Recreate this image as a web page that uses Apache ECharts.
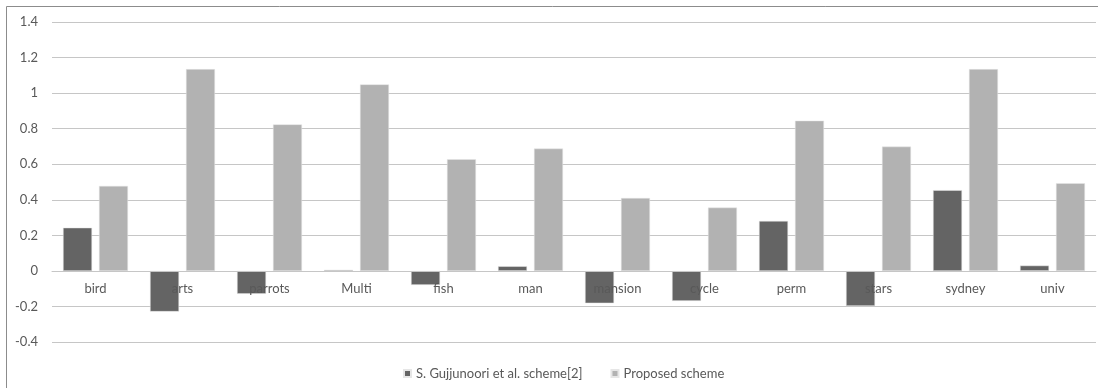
<!DOCTYPE html>
<html>
    <head>
        <meta charset="UTF-8">
        <style>
            body { margin: 0; background: #fff; }
        </style>
    </head>
    <body>
        <div id="main" style="width: 1098px;height:388px;"></div>
        <script src="https://cdn.jsdelivr.net/npm/echarts@6/dist/echarts.min.js"></script>
        <script type="text/javascript">
            // 类别
            let categories = ['bird', 'arts', 'parrots', 'Multi', 'fish', 'man', 'mansion', 'cycle', 'perm', 'stars', 'sydney', 'univ'];
            // 两组数据
            let gujjunoori = [0.243, -0.229, -0.129, 0.006, -0.079, 0.026, -0.182, -0.169, 0.281, -0.197, 0.454, 0.03];
            let proposed = [0.478, 1.135, 0.824, 1.049, 0.628, 0.688, 0.41, 0.356, 0.845, 0.699, 1.135, 0.493];
            let seriesNames = ['S. Gujjunoori et al. scheme[2]', 'Proposed scheme'];

            let chart = echarts.init(document.getElementById('main'));
            let textColor = '#595959';
            let option = {
                animation: false,
                textStyle: {fontFamily: 'Lato'},
                graphic: [{
                    type: 'rect',
                    shape: {x: 6.5, y: 6.5, width: 1200, height: 500},
                    style: {fill: 'none', stroke: '#8c8c8c', lineWidth: 1},
                    silent: true
                }],
                grid: {
                    left: 52,
                    right: 2,
                    top: 22,
                    bottom: 46
                },
                legend: {
                    left: 398,
                    top: 362,
                    icon: 'rect',
                    itemWidth: 7,
                    itemHeight: 7,
                    itemGap: 28,
                    textStyle: {color: textColor, fontSize: 13, fontFamily: 'Lato'},
                    data: seriesNames
                },
                xAxis: {
                    type: 'category',
                    data: categories,
                    offset: -71, // 标签放在0线下方
                    z: 10,
                    axisLine: {onZero: false, lineStyle: {color: '#c6c6c6'}},
                    axisTick: {show: false},
                    axisLabel: {color: textColor, fontSize: 13, margin: 11}
                },
                yAxis: {
                    type: 'value',
                    min: -0.4,
                    max: 1.4,
                    interval: 0.2,
                    axisLine: {show: false},
                    axisTick: {show: false},
                    axisLabel: {color: textColor, fontSize: 13, margin: 14},
                    splitLine: {lineStyle: {color: '#c6c6c6'}}
                },
                series: [
                    {
                        name: seriesNames[0],
                        type: 'bar',
                        data: gujjunoori,
                        barWidth: 29,
                        barGap: '24%',
                        itemStyle: {color: '#646464', borderColor: '#e6e6e6', borderWidth: 0.5}
                    },
                    {
                        name: seriesNames[1],
                        type: 'bar',
                        data: proposed,
                        barWidth: 29,
                        itemStyle: {color: '#b2b2b2', borderColor: '#e6e6e6', borderWidth: 0.5}
                    }
                ]
            };
            chart.setOption(option);
        </script>
    </body>
</html>
